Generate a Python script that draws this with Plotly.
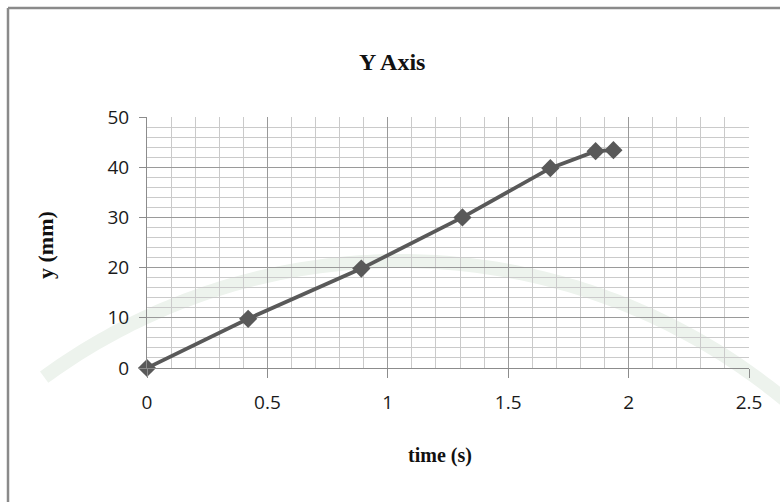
import plotly.graph_objects as go
import numpy as np

# Measured displacement along the Y axis
time_s = [0.0, 0.42, 0.89, 1.31, 1.675, 1.863, 1.937]
y_mm = [0.0, 9.8, 19.8, 30.0, 39.8, 43.2, 43.4]

chart_title = "Y Axis"
x_title = "time (s)"
y_title = "y (mm)"
x_ticks = [0, 0.5, 1, 1.5, 2, 2.5]
y_ticks = [0, 10, 20, 30, 40, 50]

W, H = 780, 502
# plot area in pixels
px_left, px_right = 147, 749
py_top, py_bottom = 117, 368


def fx(px):
    return px / W


def fy(py):
    return 1 - py / H


fig = go.Figure()
fig.add_trace(go.Scatter(
    x=time_s, y=y_mm, mode="lines+markers",
    line=dict(color="#595959", width=3.8),
    marker=dict(symbol="diamond", size=14, color="#595959"),
    showlegend=False, cliponaxis=False,
))

grid_major = "#9a9a9a"
grid_minor = "#cacaca"
axis_grey = "#8c8c8c"
serif = "Liberation Serif"

fig.update_layout(
    width=W, height=H,
    margin=dict(l=0, r=0, t=0, b=0, autoexpand=False),
    paper_bgcolor="white", plot_bgcolor="rgba(0,0,0,0)",
    xaxis=dict(
        domain=[fx(px_left), fx(px_right)], range=[0, 2.5],
        tickvals=x_ticks, ticktext=[str(v) for v in x_ticks],
        showgrid=True, gridcolor=grid_major, gridwidth=1,
        minor=dict(dtick=0.1, showgrid=True, gridcolor=grid_minor, gridwidth=1, ticks=""),
        showline=True, linecolor=axis_grey, linewidth=1,
        ticks="outside", ticklen=9, tickcolor=axis_grey, tickwidth=1,
        ticklabelstandoff=8, automargin=False,
        tickfont=dict(family="Open Sans", size=19, color="#1a1a1a"),
        zeroline=False, fixedrange=True,
    ),
    yaxis=dict(
        domain=[fy(py_bottom), fy(py_top)], range=[0, 50],
        tickvals=y_ticks, ticktext=[str(v) for v in y_ticks],
        showgrid=True, gridcolor=grid_major, gridwidth=1,
        minor=dict(dtick=2, showgrid=True, gridcolor=grid_minor, gridwidth=1, ticks=""),
        showline=True, linecolor=axis_grey, linewidth=1,
        ticks="outside", ticklen=7, tickcolor=axis_grey, tickwidth=1,
        ticklabelstandoff=6, automargin=False,
        tickfont=dict(family="Open Sans", size=19, color="#1a1a1a"),
        zeroline=False, fixedrange=True,
    ),
)

# chart title and axis titles
fig.add_annotation(text="<b>%s</b>" % chart_title, xref="paper", yref="paper",
                   x=fx(392), y=fy(62), xanchor="center", yanchor="middle",
                   showarrow=False, font=dict(family=serif, size=24, color="#111111"))
fig.add_annotation(text="<b>%s</b>" % x_title, xref="paper", yref="paper",
                   x=fx(440), y=fy(455), xanchor="center", yanchor="middle",
                   showarrow=False, font=dict(family=serif, size=20, color="#111111"))
fig.add_annotation(text="<b>%s</b>" % y_title, xref="paper", yref="paper",
                   x=fx(45), y=fy(245), xanchor="center", yanchor="middle",
                   textangle=-90, showarrow=False,
                   font=dict(family=serif, size=22, color="#111111"))

# chart frame (left and top edges)
fig.add_shape(type="line", xref="paper", yref="paper",
              x0=fx(8), x1=fx(8), y0=-0.05, y1=fy(8),
              line=dict(color="#8a8a8a", width=2.5), layer="above")
fig.add_shape(type="line", xref="paper", yref="paper",
              x0=fx(8), x1=1.05, y0=fy(8), y1=fy(8),
              line=dict(color="#8a8a8a", width=2.5), layer="above")

# faint seal band behind the plot
cx, cy, r_out, r_in = 400, 864, 610, 596
a0, a1 = np.arccos((40 - cx) / r_out), np.arccos((800 - cx) / r_out)
ang = np.linspace(a0, a1, 120)
pts_o = [(cx + r_out * np.cos(a), cy - r_out * np.sin(a)) for a in ang]
pts_i = [(cx + r_in * np.cos(a), cy - r_in * np.sin(a)) for a in ang[::-1]]
path = "M " + " L ".join("%.5f,%.5f" % (fx(x), fy(y)) for x, y in pts_o + pts_i) + " Z"
fig.add_shape(type="path", xref="paper", yref="paper", path=path,
              fillcolor="#edf3ed", line=dict(width=0), layer="below")

fig.write_html("out.html")
